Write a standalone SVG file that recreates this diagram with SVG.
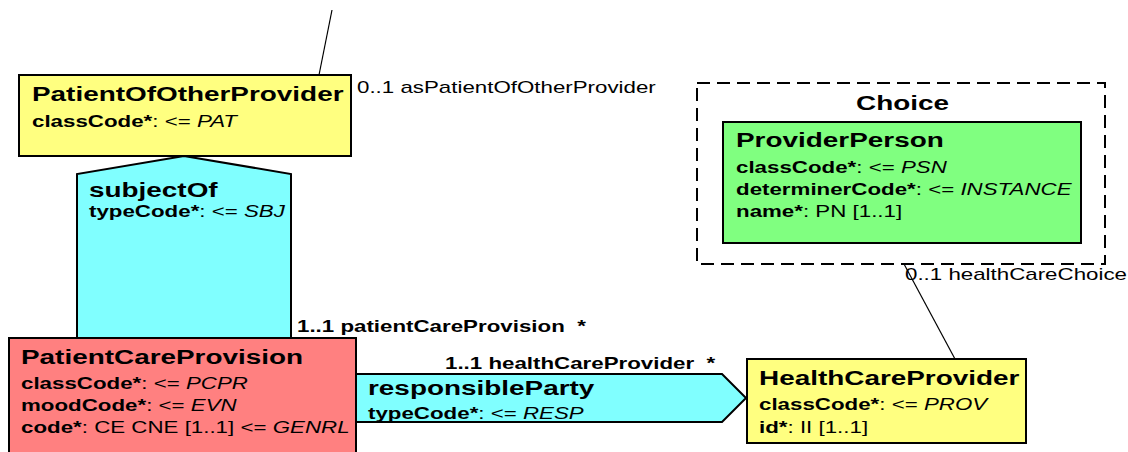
<svg xmlns="http://www.w3.org/2000/svg" width="1128" height="452" viewBox="0 0 1128 452">
  <style>
    text { font-family: "Liberation Sans", Arial, sans-serif; font-size: 16px; fill: #000; }
    .title { font-size: 20px; font-weight: bold; }
    .b { font-weight: bold; }
    .i { font-style: italic; }
    .box { stroke: #000; stroke-width: 2; }
    .act { fill: #ff8080; }
    .role { fill: #ffff80; }
    .entity { fill: #80ff80; }
    .assoc { fill: #80ffff; stroke: #000; stroke-width: 2; stroke-linejoin: miter; }
    .line { stroke: #000; stroke-width: 1.2; fill: none; }
    .choice { fill: none; stroke: #000; stroke-width: 2; stroke-dasharray: 13 7; }
  </style>

  <!-- plain association lines -->
  <g id="connectors">
    <line class="line" x1="319" y1="75" x2="332" y2="10"/>
    <line class="line" x1="955" y1="359" x2="904" y2="264"/>
  </g>

  <!-- subjectOf: PatientCareProvision -> PatientOfOtherProvider -->
  <g id="subjectOf">
    <path class="assoc" d="M77 339 L77 174 L184 156 L291 174 L291 339 Z"/>
    <text class="title" transform="translate(89 197) scale(1.395 1)">subjectOf</text>
    <text transform="translate(89 217) scale(1.395 1)"><tspan class="b">typeCode*</tspan>: &lt;= <tspan class="i">SBJ</tspan></text>
  </g>

  <!-- responsibleParty: PatientCareProvision -> HealthCareProvider -->
  <g id="responsibleParty">
    <path class="assoc" d="M350 374 L722 374 L746 398 L722 422 L350 422 Z"/>
    <text class="title" transform="translate(368 395) scale(1.395 1)">responsibleParty</text>
    <text transform="translate(368 419) scale(1.395 1)"><tspan class="b">typeCode*</tspan>: &lt;= <tspan class="i">RESP</tspan></text>
  </g>

  <g id="PatientOfOtherProvider">
    <rect class="box role" x="19" y="75" width="332" height="81"/>
    <text class="title" transform="translate(32 101) scale(1.395 1)">PatientOfOtherProvider</text>
    <text transform="translate(32 127) scale(1.395 1)"><tspan class="b">classCode*</tspan>: &lt;= <tspan class="i">PAT</tspan></text>
  </g>

  <g id="PatientCareProvision">
    <rect class="box act" x="9" y="338" width="347" height="130"/>
    <text class="title" transform="translate(21 364) scale(1.395 1)">PatientCareProvision</text>
    <text transform="translate(21 389) scale(1.395 1)"><tspan class="b">classCode*</tspan>: &lt;= <tspan class="i">PCPR</tspan></text>
    <text transform="translate(21 411) scale(1.395 1)"><tspan class="b">moodCode*</tspan>: &lt;= <tspan class="i">EVN</tspan></text>
    <text transform="translate(21 433) scale(1.395 1)"><tspan class="b">code*</tspan>: CE CNE [1..1] &lt;= <tspan class="i">GENRL</tspan></text>
  </g>

  <g id="HealthCareProvider">
    <rect class="box role" x="747" y="359" width="279" height="84"/>
    <text class="title" transform="translate(759 385) scale(1.395 1)">HealthCareProvider</text>
    <text transform="translate(759 410) scale(1.395 1)"><tspan class="b">classCode*</tspan>: &lt;= <tspan class="i">PROV</tspan></text>
    <text transform="translate(759 433) scale(1.395 1)"><tspan class="b">id*</tspan>: II [1..1]</text>
  </g>

  <g id="healthCareChoice">
    <rect class="choice" x="697" y="83" width="408" height="181"/>
    <text class="title" transform="translate(856 110) scale(1.395 1)">Choice</text>
  </g>

  <g id="ProviderPerson">
    <rect class="box entity" x="723" y="122" width="358" height="121"/>
    <text class="title" transform="translate(736 147) scale(1.395 1)">ProviderPerson</text>
    <text transform="translate(736 173) scale(1.395 1)"><tspan class="b">classCode*</tspan>: &lt;= <tspan class="i">PSN</tspan></text>
    <text transform="translate(736 195) scale(1.395 1)"><tspan class="b">determinerCode*</tspan>: &lt;= <tspan class="i">INSTANCE</tspan></text>
    <text transform="translate(736 217) scale(1.395 1)"><tspan class="b">name*</tspan>: PN [1..1]</text>
  </g>

  <!-- association end labels -->
  <g id="labels">
    <text transform="translate(357 93) scale(1.395 1)">0..1 asPatientOfOtherProvider</text>
    <text class="b" transform="translate(297 332) scale(1.395 1)" xml:space="preserve">1..1 patientCareProvision  *</text>
    <text class="b" transform="translate(445 369) scale(1.395 1)" xml:space="preserve">1..1 healthCareProvider  *</text>
    <text transform="translate(905 280) scale(1.395 1)">0..1 healthCareChoice</text>
  </g>
</svg>
